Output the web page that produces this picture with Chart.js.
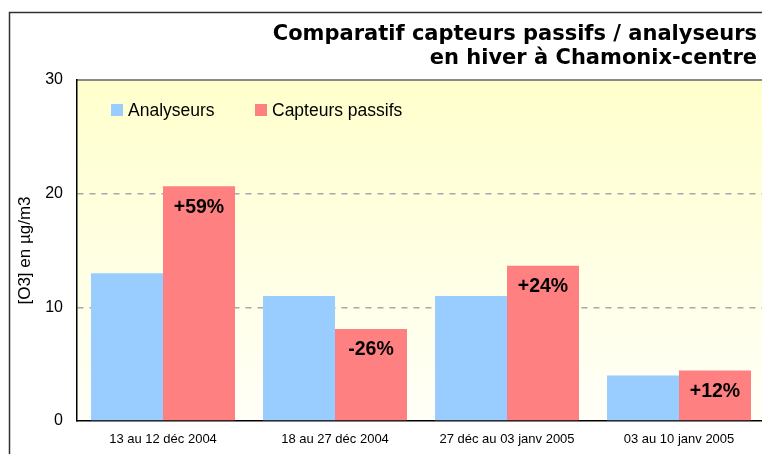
<!DOCTYPE html>
<html>
<head>
<meta charset="utf-8">
<script src="https://cdn.jsdelivr.net/npm/chart.js@4/dist/chart.umd.min.js"></script>
<style>
html,body{margin:0;padding:0;background:#fff;overflow:hidden;}
#wrap{width:770px;height:454px;}
</style>
</head>
<body>
<div id="wrap"><canvas id="c" width="770" height="454"></canvas></div>
<script>
const categories = ["13 au 12 déc 2004", "18 au 27 déc 2004", "27 déc au 03 janv 2005", "03 au 10 janv 2005"];
const analyseurs = [13.0, 11.0, 11.0, 4.0];
const capteurs = [20.65, 8.1, 13.65, 4.45];
const ecarts = ["+59%", "-26%", "+24%", "+12%"];
const seriesNames = ["Analyseurs", "Capteurs passifs"];
const yTicks = [0, 10, 20, 30];
const titleLines = ["Comparatif capteurs passifs / analyseurs", "en hiver à Chamonix-centre"];

const BLUE = '#99CCFF', RED = '#FF8080';

const framePlugin = {
  id: 'frame',
  beforeDraw(chart) {
    const {ctx, chartArea: a} = chart;
    ctx.save();
    ctx.fillStyle = '#fff';
    ctx.fillRect(0, 0, chart.width, chart.height);
    const g = ctx.createLinearGradient(0, a.top, 0, a.bottom);
    g.addColorStop(0, '#FFFFCC');
    g.addColorStop(1, '#FFFFF8');
    ctx.fillStyle = g;
    ctx.fillRect(a.left, a.top, a.right - a.left, a.bottom - a.top);
    // outer border
    ctx.strokeStyle = '#333';
    ctx.lineWidth = 1.5;
    ctx.beginPath();
    ctx.moveTo(9.5, chart.height);
    ctx.lineTo(9.5, 12.5);
    ctx.lineTo(chart.width, 12.5);
    ctx.stroke();
    // top border of plot
    ctx.strokeStyle = '#8a8a8a';
    ctx.lineWidth = 2;
    ctx.beginPath();
    ctx.moveTo(a.left, a.top);
    ctx.lineTo(a.right, a.top);
    ctx.stroke();
    // title
    ctx.fillStyle = '#000';
    ctx.font = 'bold 21px "DejaVu Sans"';
    ctx.textAlign = 'right';
    ctx.textBaseline = 'alphabetic';
    ctx.fillText(titleLines[0], 757, 40);
    ctx.fillText(titleLines[1], 757, 64);
    // legend
    ctx.font = '17.5px "Liberation Sans"';
    ctx.textAlign = 'left';
    const items = [[seriesNames[0], BLUE, 111], [seriesNames[1], RED, 255]];
    items.forEach(([t, c, x]) => {
      ctx.fillStyle = c;
      ctx.fillRect(x, 104, 12, 12);
      ctx.fillStyle = '#000';
      ctx.fillText(t, x + 17, 116);
    });
    ctx.restore();
  },
  afterDatasetsDraw(chart) {
    const {ctx} = chart;
    const meta = chart.getDatasetMeta(1);
    ctx.save();
    ctx.fillStyle = '#000';
    ctx.font = 'bold 19.5px "Liberation Sans"';
    ctx.textAlign = 'center';
    ctx.textBaseline = 'middle';
    meta.data.forEach((bar, i) => {
      ctx.fillText(ecarts[i], bar.x, bar.y + 21);
    });
    ctx.restore();
  }
};

new Chart(document.getElementById('c'), {
  type: 'bar',
  data: {
    labels: categories,
    datasets: [
      {label: seriesNames[0], data: analyseurs, backgroundColor: BLUE, borderWidth: 0},
      {label: seriesNames[1], data: capteurs, backgroundColor: RED, borderWidth: 0}
    ]
  },
  options: {
    responsive: false,
    animation: false,
    devicePixelRatio: 1,
    categoryPercentage: 144 / 172,
    barPercentage: 1.0,
    layout: {padding: {top: 80, left: 0, right: 5, bottom: 0}},
    plugins: {legend: {display: false}, title: {display: false}, tooltip: {enabled: false}},
    scales: {
      x: {
        grid: {display: false, drawTicks: false},
        border: {display: true, color: '#000', width: 1.5},
        ticks: {color: '#000', font: {family: 'Liberation Sans', size: 13}, padding: 11, maxRotation: 0, autoSkip: false},
        afterFit(s) { s.height = 33; }
      },
      y: {
        min: 0, max: 30,
        afterBuildTicks(s) { s.ticks = yTicks.map(v => ({value: v})); },
        grid: {
          drawTicks: false,
          color: c => (c.tick && (c.tick.value === 10 || c.tick.value === 20)) ? '#a8a8a8' : 'rgba(0,0,0,0)',
          lineWidth: 1.5
        },
        border: {display: true, color: '#000', width: 1.5, dash: [6, 6]},
        ticks: {color: '#000', font: {family: 'Liberation Sans', size: 16}, padding: 14},
        title: {display: true, text: '[O3] en µg/m3', color: '#000', font: {family: 'Liberation Sans', size: 17}, padding: {top: 15}},
        afterFit(s) { s.width = 77; }
      }
    }
  },
  plugins: [framePlugin]
});
</script>
</body>
</html>
